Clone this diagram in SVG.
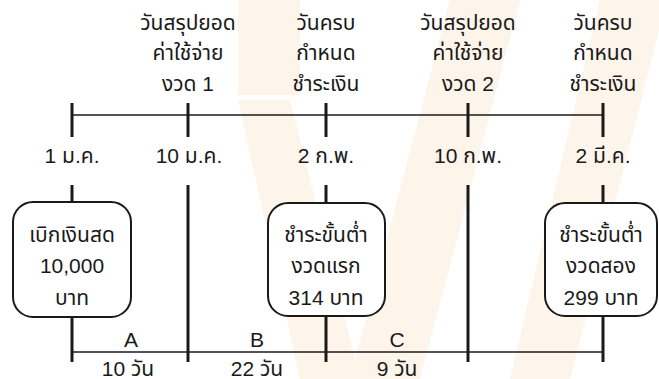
<svg xmlns="http://www.w3.org/2000/svg" width="659" height="379" viewBox="0 0 659 379">
<style>
text{font-family:"Liberation Sans","Noto Sans Thai","Noto Sans","DejaVu Sans",sans-serif;font-size:21px;fill:#1a1a1a;text-anchor:middle}
.tick{stroke:#1a1a1a;stroke-width:3;fill:none}
.hl{stroke:#1a1a1a;stroke-width:1.5;fill:none}
.box{fill:#fff;stroke:#1a1a1a;stroke-width:2}
.wm{fill:#fdf4ea}
</style>
<g id="watermark">
<polygon class="wm" points="238,0 300,0 300,95 238,95"/>
<polygon class="wm" points="238,100 290,100 360,379 300,379"/>
<polygon class="wm" points="450,0 520,0 420,379 350,379"/>
<polygon class="wm" points="600,0 659,0 659,30 570,379 510,379"/>
</g>
<g id="connectors">
<line class="hl" x1="72" y1="115" x2="603" y2="115"/>
<line class="tick" x1="72" y1="103" x2="72" y2="137"/>
<line class="tick" x1="188" y1="103" x2="188" y2="137"/>
<line class="tick" x1="326" y1="103" x2="326" y2="137"/>
<line class="tick" x1="468" y1="103" x2="468" y2="137"/>
<line class="tick" x1="603" y1="103" x2="603" y2="137"/>
<line class="tick" x1="72" y1="185" x2="72" y2="362"/>
<line class="tick" x1="188" y1="185" x2="188" y2="362"/>
<line class="tick" x1="326" y1="185" x2="326" y2="362"/>
<line class="tick" x1="468" y1="185" x2="468" y2="362"/>
<line class="tick" x1="603" y1="185" x2="603" y2="362"/>
<line class="hl" x1="72" y1="352" x2="603" y2="352"/>
</g>
<g id="top-labels">
<text x="188" y="30">วันสรุปยอด</text>
<text x="188" y="60">ค่าใช้จ่าย</text>
<text x="188" y="91">งวด 1</text>
<text x="326" y="30">วันครบ</text>
<text x="326" y="60">กำหนด</text>
<text x="326" y="91">ชำระเงิน</text>
<text x="468" y="30">วันสรุปยอด</text>
<text x="468" y="60">ค่าใช้จ่าย</text>
<text x="468" y="91">งวด 2</text>
<text x="603" y="30">วันครบ</text>
<text x="603" y="60">กำหนด</text>
<text x="603" y="91">ชำระเงิน</text>
</g>
<g id="dates">
<text x="72" y="163">1 ม.ค.</text>
<text x="189" y="163">10 ม.ค.</text>
<text x="326" y="163">2 ก.พ.</text>
<text x="468" y="163">10 ก.พ.</text>
<text x="603" y="163">2 มี.ค.</text>
</g>
<g id="node-withdraw">
<rect class="box" x="13" y="202" width="118" height="115" rx="20"/>
<text x="72" y="242">เบิกเงินสด</text>
<text x="72" y="273">10,000</text>
<text x="72" y="305">บาท</text>
</g>
<g id="node-pay1">
<rect class="box" x="268" y="203" width="117" height="113" rx="20"/>
<text x="326" y="242">ชำระขั้นต่ำ</text>
<text x="326" y="273">งวดแรก</text>
<text x="326" y="305">314 บาท</text>
</g>
<g id="node-pay2">
<rect class="box" x="545" y="203" width="112" height="113" rx="20"/>
<text x="601" y="242">ชำระขั้นต่ำ</text>
<text x="601" y="273">งวดสอง</text>
<text x="601" y="305">299 บาท</text>
</g>
<g id="intervals">
<text x="131" y="347">A</text>
<text x="257" y="347">B</text>
<text x="397" y="347">C</text>
<text x="128" y="376">10 วัน</text>
<text x="257" y="376">22 วัน</text>
<text x="397" y="376">9 วัน</text>
</g>
</svg>
